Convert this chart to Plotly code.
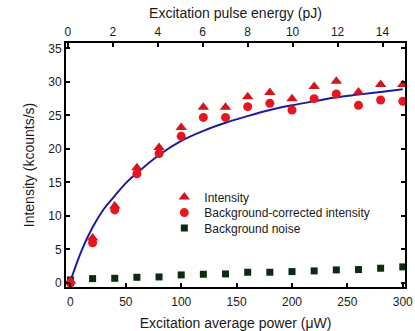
import plotly.graph_objects as go

power = [0, 20, 40, 60, 80, 100, 120, 140, 160, 180, 200, 220, 240, 260, 280, 300]
intensity = [0.3, 6.7, 11.5, 17.2, 20.2, 23.2, 26.2, 26.2, 27.8, 28.4, 27.5, 29.3, 30.1, 28.5, 29.6, 29.6]
corrected = [0.0, 6.0, 10.9, 16.3, 19.3, 21.9, 24.7, 24.7, 26.3, 26.8, 25.8, 27.5, 28.2, 26.5, 27.3, 27.1]
noise = [0.45, 0.65, 0.7, 0.85, 0.9, 1.2, 1.3, 1.35, 1.6, 1.6, 1.7, 1.8, 1.95, 2.0, 2.2, 2.4]

fit_power = [0, 10, 20, 30, 40, 50, 60, 80, 100, 120, 140, 160, 180, 200, 220, 240, 260, 280, 300]
fit_intensity = [0.3, 4.8, 8.3, 11.0, 13.0, 14.9, 16.4, 19.1, 21.2, 22.7, 23.9, 24.9, 25.8, 26.5,
                 27.1, 27.7, 28.1, 28.5, 28.9]

FONT = "Liberation Sans, Arial, sans-serif"
TXT = "#1a1a1a"

fig = go.Figure()
fig.add_trace(go.Scatter(x=power, y=noise, mode="markers", name="Background noise", legend="legend3",
                         marker=dict(symbol="square", size=7, color="#0d2a12")))
fig.add_trace(go.Scatter(x=fit_power, y=fit_intensity, mode="lines", showlegend=False,
                         line=dict(color="#1c1c9c", width=2, shape="spline")))
fig.add_trace(go.Scatter(x=power, y=intensity, mode="markers", name="Intensity", legend="legend",
                         marker=dict(symbol="triangle-up", size=10, color="#d4151c")))
fig.add_trace(go.Scatter(x=power, y=corrected, mode="markers", name="Background-corrected intensity",
                         legend="legend2", marker=dict(symbol="circle", size=9, color="#e8141e")))
# dummy trace so the top axis shows up
fig.add_trace(go.Scatter(x=[0, 15], y=[None, None], xaxis="x2", showlegend=False, hoverinfo="skip"))

axis_common = dict(showline=True, linecolor="black", linewidth=2, ticks="inside", ticklen=4,
                   tickwidth=1.5, tickcolor="black", showgrid=False, zeroline=False, automargin=False,
                   tickfont=dict(family=FONT, size=12, color=TXT))
# one legend per entry so the rows can sit as tight as in the original
leg = dict(x=0.29, xanchor="left", yanchor="middle", bgcolor="rgba(0,0,0,0)",
           font=dict(family=FONT, size=12, color=TXT), itemwidth=30)
fig.update_layout(
    width=415, height=331,
    margin=dict(l=66, r=10, t=43, b=44),
    plot_bgcolor="white", paper_bgcolor="white",
    font=dict(family=FONT, size=12, color=TXT),
    xaxis=dict(range=[-4, 302], dtick=50, ticklabelstandoff=3,
               title=dict(text="Excitation average power (μW)", standoff=12), **axis_common),
    xaxis2=dict(range=[-0.08, 15.0], dtick=2, overlaying="x", side="top",
                title=dict(text="Excitation pulse energy (pJ)", standoff=3), **axis_common),
    yaxis=dict(range=[-0.6, 35.8], dtick=5, mirror="ticks",
               title=dict(text="Intensity (kcounts/s)", standoff=10), **axis_common),
    legend=dict(y=0.369, **leg),
    legend2=dict(y=0.305, **leg),
    legend3=dict(y=0.242, **leg),
)
fig.write_html("out.html", config={"displayModeBar": False},
               post_script="document.body.style.margin='0';")
